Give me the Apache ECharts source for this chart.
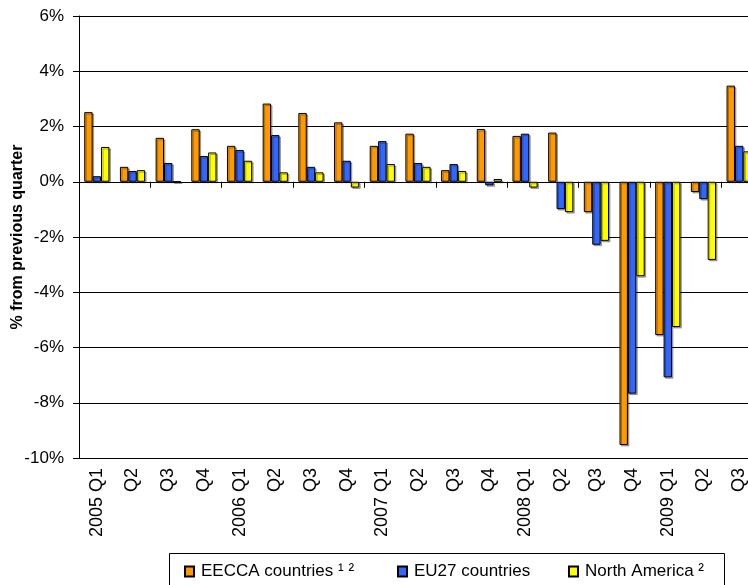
<!DOCTYPE html>
<html>
<head>
<meta charset="utf-8">
<script src="https://cdn.jsdelivr.net/npm/echarts@6/dist/echarts.min.js"></script>
<style>
html,body{margin:0;padding:0;background:#fff;overflow:hidden;}
#c{width:760px;height:585px;}
</style>
</head>
<body>
<div id="c"></div>
<script>
const categories = ['2005 Q1','Q2','Q3','Q4','2006 Q1','Q2','Q3','Q4','2007 Q1','Q2','Q3','Q4','2008 Q1','Q2','Q3','Q4','2009 Q1','Q2','Q3'];
const eecca = [2.52,0.54,1.59,1.90,1.30,2.83,2.49,2.15,1.30,1.74,0.42,1.91,1.66,1.78,-1.10,-9.53,-5.55,-0.37,3.48];
const eu27  = [0.20,0.39,0.68,0.93,1.15,1.69,0.54,0.76,1.47,0.68,0.64,-0.13,1.74,-0.99,-2.28,-7.67,-7.08,-0.63,1.30];
const northAmerica = [1.26,0.42,0.00,1.06,0.76,0.34,0.34,-0.21,0.64,0.54,0.39,0.10,-0.21,-1.10,-2.14,-3.42,-5.26,-2.83,1.10];
const seriesNames = ['EECCA countries \u00b9 \u00b2','EU27 countries','North America \u00b2'];
const yTicks = {min:-10, max:6, interval:2};

const FONT = 'Liberation Sans, Arial, sans-serif';
const chart = echarts.init(document.getElementById('c'), null, {renderer:'canvas'});
const barStyle = (color) => ({
  color: color, borderColor: '#000', borderWidth: 1,
  shadowColor: 'rgba(0,0,0,0.3)', shadowOffsetX: 1.5, shadowOffsetY: 1.5, shadowBlur: 0
});
const legendCommon = {
  top: 563, itemWidth: 9, itemHeight: 10, orient: 'horizontal', padding: 0, itemGap: 0,
  textStyle: {fontFamily: FONT, fontSize: 17, color: '#000', padding: [0,0,0,2]},
  icon: 'rect'
};
chart.setOption({
  animation: false,
  backgroundColor: '#fff',
  grid: {left: 79, right: 3, top: 16, bottom: 127, containLabel: false, outerBoundsMode: 'none'},
  xAxis: [
    {
      type: 'category', data: categories, position: 'bottom',
      axisLine: {onZero: true, lineStyle: {color: '#000', width: 1}},
      axisTick: {show: true, length: 6, lineStyle: {color: '#000'}},
      axisLabel: {show: false}
    },
    {
      type: 'category', data: categories, position: 'bottom',
      axisLine: {show: false, onZero: false},
      axisTick: {show: false},
      axisLabel: {rotate: 90, margin: 10, interval: 0, fontFamily: FONT, fontSize: 18, color: '#000'}
    }
  ],
  yAxis: {
    type: 'value', min: yTicks.min, max: yTicks.max, interval: yTicks.interval,
    name: '% from previous quarter', nameLocation: 'middle', nameGap: 53, nameRotate: 90,
    nameMoveOverlap: false,
    nameTextStyle: {fontFamily: FONT, fontSize: 16, fontWeight: 'bold', color: '#000'},
    axisLine: {show: true, lineStyle: {color: '#000', width: 1}},
    axisTick: {show: true, length: 6, lineStyle: {color: '#000'}},
    axisLabel: {formatter: '{value}%', margin: 15, fontFamily: FONT, fontSize: 17, color: '#000'},
    splitLine: {show: true, lineStyle: {color: '#000', width: 1}}
  },
  graphic: [{
    type: 'rect', left: 169, top: 553, z: 0,
    shape: {width: 555, height: 50},
    style: {fill: '#fff', stroke: '#000', lineWidth: 1}
  }],
  legend: [
    Object.assign({}, legendCommon, {left: 184, data: [seriesNames[0]]}),
    Object.assign({}, legendCommon, {left: 397, data: [seriesNames[1]]}),
    Object.assign({}, legendCommon, {left: 568, data: [seriesNames[2]]})
  ],
  series: [
    {name: seriesNames[0], type: 'bar', data: eecca, barWidth: 8.4, barGap: '0%', itemStyle: barStyle('#FF9900')},
    {name: seriesNames[1], type: 'bar', data: eu27, barWidth: 8.4, barGap: '0%', itemStyle: barStyle('#3366FF')},
    {name: seriesNames[2], type: 'bar', data: northAmerica, barWidth: 8.4, barGap: '0%', itemStyle: barStyle('#FFFF00')}
  ]
});
</script>
</body>
</html>
